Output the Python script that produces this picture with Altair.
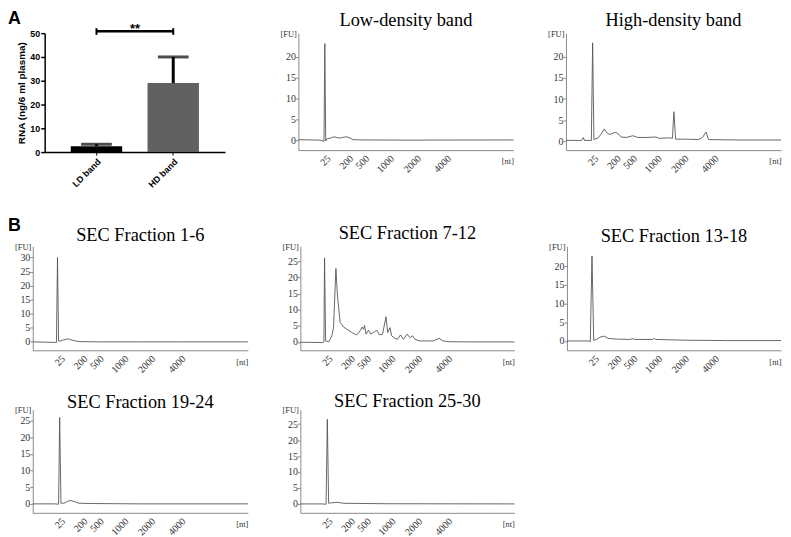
import altair as alt
import pandas as pd

SERIF = "Liberation Serif"
SANS = "Liberation Sans"

# ---------------- Panel A: bar chart ----------------
groups = ["LD band", "HD band"]
rna_mean = [2.5, 29.0]
rna_upper = [3.3, 40.0]
bar_colors = ["#000000", "#616161"]
sig_y = 50.8
sig_cap_lo = 49.3
sig_cap_hi = 52.1
sig_text = "**"
sig_text_y = 50.0

# ---------------- Electropherogram x ladder ----------------
nt_ticks = [12.5, 23, 30.5, 42, 54.5, 68.5]
nt_labels = ["25", "200", "500", "1000", "2000", "4000"]

# Low-density band
ld_x = [0, 5, 10, 11.5, 11.9, 12.3, 12.7, 13.2, 15.0, 16.5, 18.0, 19.5, 21.0, 22.5, 24.0, 25.5, 30, 50, 100]
ld_y = [0.1, 0.05, 0.0, -0.2, -0.3, 23.2, -0.2, 0.3, 0.5, 0.8, 0.6, 0.5, 0.7, 0.8, 0.5, 0.1, 0.05, 0.0, 0.05]

# High-density band
hd_x = [0, 7.3, 8.1, 8.6, 11.8, 12.4, 13.0, 15.0, 16.5, 17.8, 19.0, 20.4, 21.8, 23.1, 24.4, 25.7, 28.0, 31.1,
        33.4, 37.2, 41.8, 43.3, 47.9, 49.5, 50.2, 51.0, 55.6, 61.7, 63.5, 65.1, 66.3, 80, 100]
hd_y = [0.2, 0.2, 0.9, 0.2, 0.2, 23.3, 0.4, 0.8, 1.8, 2.9, 2.0, 1.6, 1.9, 2.1, 1.7, 1.0, 0.9, 1.3,
        0.9, 0.9, 1.0, 0.7, 0.8, 0.7, 7.0, 0.5, 0.5, 0.4, 0.9, 2.2, 0.4, 0.3, 0.3]

# SEC Fraction 1-6
s1_x = [0, 5, 10, 11.0, 11.5, 12.0, 12.8, 13.8, 15.0, 16.2, 17.5, 18.8, 21.5, 30, 50, 70, 100]
s1_y = [0.0, -0.1, -0.2, -0.2, 30.0, 0.3, 0.3, 0.6, 0.8, 1.1, 0.8, 0.5, 0.1, 0.0, 0.0, 0.0, 0.0]

# SEC Fraction 7-12
s2_x = [0, 10.5, 11.0, 11.3, 11.8, 13.2, 14.7, 15.5, 16.6, 17.4, 18.6, 20.2, 22.5, 24.8, 26.4, 27.9, 28.8,
        29.5, 30.0, 30.7, 31.8, 32.9, 34.1, 35.7, 36.9, 38.4, 40.0, 40.8, 41.9, 42.6, 44.2, 45.4, 46.8,
        48.1, 49.9, 51.2, 52.4, 53.5, 55.8, 62.0, 64.8, 66.7, 69.8, 80, 100]
s2_y = [-0.1, -0.2, 0.0, 26.0, 0.3, 0.0, 1.9, 4.4, 22.7, 13.7, 6.0, 4.6, 3.6, 2.6, 2.2, 3.4, 4.6,
        3.9, 5.1, 2.4, 3.6, 2.4, 2.9, 3.6, 2.2, 2.4, 7.8, 2.9, 4.4, 1.9, 1.1, 0.8, 2.2,
        0.8, 2.4, 1.3, 1.9, 0.8, 0.3, 0.3, 1.1, 0.3, 0.05, 0.0, 0.0]

# SEC Fraction 13-18
s3_x = [0, 10, 10.9, 11.7, 12.5, 13.8, 15.5, 17.2, 19.2, 23.1, 29.2, 30.8, 31.5, 40, 40.8, 41.5, 55.4, 75, 100]
s3_y = [0.0, 0.0, -0.2, 22.7, 0.2, 0.4, 1.0, 1.3, 0.7, 0.5, 0.4, 0.6, 0.4, 0.4, 0.7, 0.4, 0.2, 0.1, 0.1]

# SEC Fraction 19-24
s4_x = [0, 10, 12.0, 12.5, 13.1, 14.6, 16.2, 17.7, 19.2, 21.5, 27.7, 50, 100]
s4_y = [0.0, 0.0, -0.1, 26.0, 0.2, 0.2, 0.8, 1.0, 0.7, 0.2, 0.1, 0.0, 0.0]

# SEC Fraction 25-30
s5_x = [0, 10, 12.0, 12.6, 13.2, 14.0, 17.2, 20.3, 40, 100]
s5_y = [0.0, 0.0, -0.1, 26.5, 0.2, 0.3, 0.5, 0.2, 0.05, 0.0]

label_expr = " : ".join(f"datum.value == {v} ? '{l}'" for v, l in zip(nt_ticks, nt_labels)) + " : ''"

AX = "#8a8a8a"
TXT = "#333333"


def panel_label(text, x, y):
    return alt.Chart(pd.DataFrame({"t": [text]})).mark_text(
        font=SANS, fontWeight="bold", fontSize=18, align="left", baseline="alphabetic", color="black"
    ).encode(text="t:N", x=alt.value(x), y=alt.value(y))


def ephero(title, xs, ys, ydom, yticks, w, h, toff, extra=None):
    df = pd.DataFrame({"x": xs, "y": ys})
    line = alt.Chart(df).mark_line(color="#555555", strokeWidth=0.9).encode(
        x=alt.X("x:Q", scale=alt.Scale(domain=[0, 100], nice=False, zero=False),
                axis=alt.Axis(values=nt_ticks, labelExpr=label_expr, labelAngle=-45, ticks=False,
                              grid=False, domainColor=AX, labelFont=SERIF, labelFontSize=10,
                              labelColor=TXT, labelPadding=3, labelOverlap=False, labelFlush=False,
                              title="[nt]", titleX=w, titleY=7, titleAlign="right",
                              titleBaseline="top", titleFont=SERIF, titleFontSize=8.5,
                              titleFontWeight="normal", titleColor=TXT)),
        y=alt.Y("y:Q", scale=alt.Scale(domain=ydom, nice=False, zero=False),
                axis=alt.Axis(values=yticks, grid=False, tickSize=3, tickColor=AX, domainColor=AX,
                              labelFont=SERIF, labelFontSize=10, labelColor=TXT, labelPadding=0,
                              labelOverlap=False,
                              title="[FU]", titleAngle=0, titleX=-2, titleY=0, titleAlign="right",
                              titleBaseline="middle", titleFont=SERIF, titleFontSize=8.5,
                              titleFontWeight="normal", titleColor=TXT)),
    )
    layers = [line]
    if extra is not None:
        layers.append(extra)
    return alt.layer(*layers).properties(
        width=w, height=h,
        title=alt.TitleParams(title, font=SERIF, fontSize=18.5, fontWeight="normal", color="black",
                              anchor="middle", frame="group", offset=toff),
    )


# ---------------- Bar chart ----------------
bar_df = pd.DataFrame({"group": groups, "mean": rna_mean, "upper": rna_upper, "color": bar_colors})
xscale = alt.Scale(domain=groups, paddingInner=0.33, paddingOuter=0.34)
xaxis = alt.Axis(labelAngle=-45, title=None, labelFont=SANS, labelFontWeight="bold",
                 labelFontSize=9, labelColor="black", tickSize=3, tickColor="black",
                 domainColor="black", domainWidth=1.5, labelPadding=2)
yscale = alt.Scale(domain=[0, 50], nice=False)
yaxis = alt.Axis(values=[0, 10, 20, 30, 40, 50], grid=False, title="RNA (ng/6 ml plasma)",
                 titleFont=SANS, titleFontWeight="bold", titleFontSize=10, titleColor="black",
                 labelFont=SANS, labelFontWeight="bold", labelFontSize=9, labelColor="black",
                 labelOverlap=False, tickSize=4, tickColor="black", tickWidth=1.5,
                 domainColor="black", domainWidth=1.5, labelPadding=1, titlePadding=3)


def bx(field, **kw):
    return alt.X(field, scale=xscale, axis=xaxis, **kw)


def by(field):
    return alt.Y(field, scale=yscale, axis=yaxis)


base = alt.Chart(bar_df)
bars = base.mark_bar().encode(x=bx("group:N"), y=by("mean:Q"), color=alt.Color("color:N", scale=None))
err_rule = base.mark_rule(color="black", strokeWidth=3).encode(x=bx("group:N"), y=by("mean:Q"), y2="upper:Q")
err_cap = base.mark_tick(color="black", thickness=3, size=31).encode(x=bx("group:N"), y=by("upper:Q"))

sig_df = pd.DataFrame({"a": [groups[0]], "b": [groups[1]], "y": [sig_y], "t": [sig_text], "ty": [sig_text_y]})
sig_line = alt.Chart(sig_df).mark_rule(color="black", strokeWidth=2.5).encode(
    x=bx("a:N", bandPosition=0.5), x2=alt.X2("b:N", bandPosition=0.5), y=by("y:Q"))
cap_df = pd.DataFrame({"group": groups, "lo": [sig_cap_lo] * 2, "hi": [sig_cap_hi] * 2})
sig_caps = alt.Chart(cap_df).mark_rule(color="black", strokeWidth=2).encode(
    x=bx("group:N"), y=by("lo:Q"), y2="hi:Q")
sig_star = alt.Chart(sig_df).mark_text(font=SANS, fontWeight="bold", fontSize=13, baseline="alphabetic",
                                       color="black", dx=13).encode(
    x=bx("a:N", bandPosition=1), y=by("ty:Q"), text="t:N")

bar_chart = alt.layer(bars, err_rule, err_cap, sig_line, sig_caps, sig_star,
                      panel_label("A", -37, -9)).properties(width=182, height=120)

ld = ephero("Low-density band", ld_x, ld_y, [-2.4, 25.7], [0, 5, 10, 15, 20], 217, 118, 0)
hd = ephero("High-density band", hd_x, hd_y, [-2.1, 25.6], [0, 5, 10, 15, 20], 217, 118, -0.5)
p1 = ephero("SEC Fraction 1-6", s1_x, s1_y, [-3.0, 34.0], [0, 5, 10, 15, 20, 25, 30], 217, 105, -27,
            panel_label("B", -25, -15))
p2 = ephero("SEC Fraction 7-12", s2_x, s2_y, [-2.6, 29.6], [0, 5, 10, 15, 20, 25], 216, 105, 0)
p3 = ephero("SEC Fraction 13-18", s3_x, s3_y, [-2.5, 25.3], [0, 5, 10, 15, 20], 216, 105, -3.5)
p4 = ephero("SEC Fraction 19-24", s4_x, s4_y, [-2.7, 28.3], [0, 5, 10, 15, 20, 25], 217, 104, -6)
p5 = ephero("SEC Fraction 25-30", s5_x, s5_y, [-2.8, 29.5], [0, 5, 10, 15, 20, 25], 216, 104, -4.7)


def spacer(w):
    return alt.Chart(pd.DataFrame({"v": [0]})).mark_point(opacity=0, size=1).encode(
        x=alt.X("v:Q", axis=None), y=alt.Y("v:Q", axis=None)).properties(width=w, height=1)


rowA = alt.hconcat(spacer(6), bar_chart, spacer(62), ld, spacer(41), hd, spacing=6, bounds="flush")
rowB1 = alt.hconcat(p1, p2, p3, spacing=53, bounds="flush")
rowB2 = alt.hconcat(p4, p5, spacing=53, bounds="flush")

chart = alt.vconcat(
    rowA, alt.vconcat(rowB1, rowB2, spacing=17), spacing=28
).properties(padding=0).configure_view(stroke=None)

chart.save("out.html", embed_options={"renderer": "svg", "actions": False})
